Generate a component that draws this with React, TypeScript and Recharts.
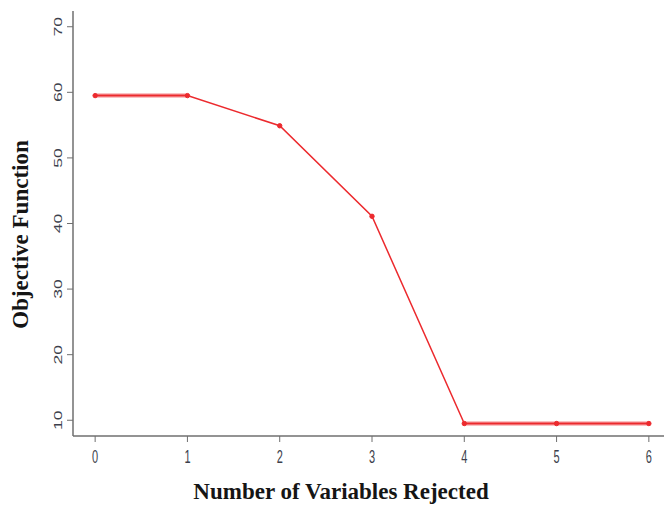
import { LineChart, Line, XAxis, YAxis } from "recharts";

// number of variables rejected vs objective function value
const rejected = [0, 1, 2, 3, 4, 5, 6];
const objective = [59.5, 59.5, 54.9, 41.1, 9.5, 9.5, 9.5];
// flat stretches are drawn heavier in the original plot
const plateau: (number | null)[] = [59.5, 59.5, null, null, 9.5, 9.5, 9.5];

const xTicks = [0, 1, 2, 3, 4, 5, 6];
const yTicks = [10, 20, 30, 40, 50, 60, 70];

const data = rejected.map((r, i) => ({ r, obj: objective[i], flat: plateau[i] }));

const AXIS = "#6f6f6f";
const RED = "#ec2a2e";
const TICK_FONT = "'Liberation Sans', Arial, sans-serif";
const TITLE_FONT = "'Liberation Serif', 'Times New Roman', serif";

const XTick = (p: any) => (
  <g transform={`translate(${p.x},${p.y}) scale(1,1.6)`}>
    <text x={0} y={0} textAnchor="middle" dominantBaseline="central" fontSize={11} fontFamily={TICK_FONT} fill="#3c3f4c">
      {p.payload.value}
    </text>
  </g>
);

const YTick = (p: any) => (
  <g transform={`translate(${p.x},${p.y}) scale(1,1.6) rotate(-90)`}>
    <text x={0} y={0} textAnchor="middle" dominantBaseline="central" fontSize={11} fontFamily={TICK_FONT} fill="#3c3f4c">
      {p.payload.value}
    </text>
  </g>
);

const YTitle = (p: any) => {
  const vb = p.viewBox || { x: 0, y: 11, width: 73, height: 425 };
  const x = vb.x + 20;
  const y = vb.y + vb.height / 2 + 11;
  return (
    <text x={x} y={y} transform={`rotate(-90 ${x} ${y})`} textAnchor="middle" dominantBaseline="central"
      fontSize={23} fontWeight="bold" fontFamily={TITLE_FONT} fill="#151515">
      Objective Function
    </text>
  );
};

const XTitle = (p: any) => {
  const vb = p.viewBox || { x: 73, y: 436, width: 598, height: 69 };
  return (
    <text x={vb.x + vb.width / 2 - 31} y={vb.y + 63} textAnchor="middle"
      fontSize={23} fontWeight="bold" fontFamily={TITLE_FONT} fill="#151515">
      Number of Variables Rejected
    </text>
  );
};

export default function App() {
  return (
    <div style={{ position: "fixed", left: 0, top: 0, width: 664, height: 505, overflow: "hidden", background: "#fff" }}>
      <LineChart width={690} height={505} data={data} margin={{ top: 11, right: 19, bottom: 0, left: 0 }}>
        <XAxis xAxisId="top" orientation="top" dataKey="r" type="number" domain={[-0.24, 6.24]} height={0}
          tick={false} tickLine={false} axisLine={{ stroke: AXIS, strokeWidth: 1.5 }} />
        <XAxis dataKey="r" type="number" domain={[-0.24, 6.24]} ticks={xTicks} allowDataOverflow height={69}
          tickSize={6} tickMargin={15} tick={XTick} tickLine={{ stroke: AXIS }} axisLine={{ stroke: AXIS, strokeWidth: 1.5 }}
          label={{ content: XTitle }} />
        <YAxis type="number" domain={[7.6, 72.4]} ticks={yTicks} allowDataOverflow width={73}
          tickSize={6} tickMargin={9} tick={YTick} tickLine={{ stroke: AXIS }} axisLine={{ stroke: AXIS, strokeWidth: 1.5 }}
          label={{ content: YTitle }} />
        <Line dataKey="flat" stroke="#f2686b" strokeWidth={4} strokeOpacity={0.8} dot={false} activeDot={false}
          connectNulls={false} isAnimationActive={false} />
        <Line dataKey="obj" stroke={RED} strokeWidth={1.5} dot={{ r: 2.2, fill: RED, stroke: RED, strokeWidth: 1 }}
          activeDot={false} isAnimationActive={false} />
      </LineChart>
    </div>
  );
}
